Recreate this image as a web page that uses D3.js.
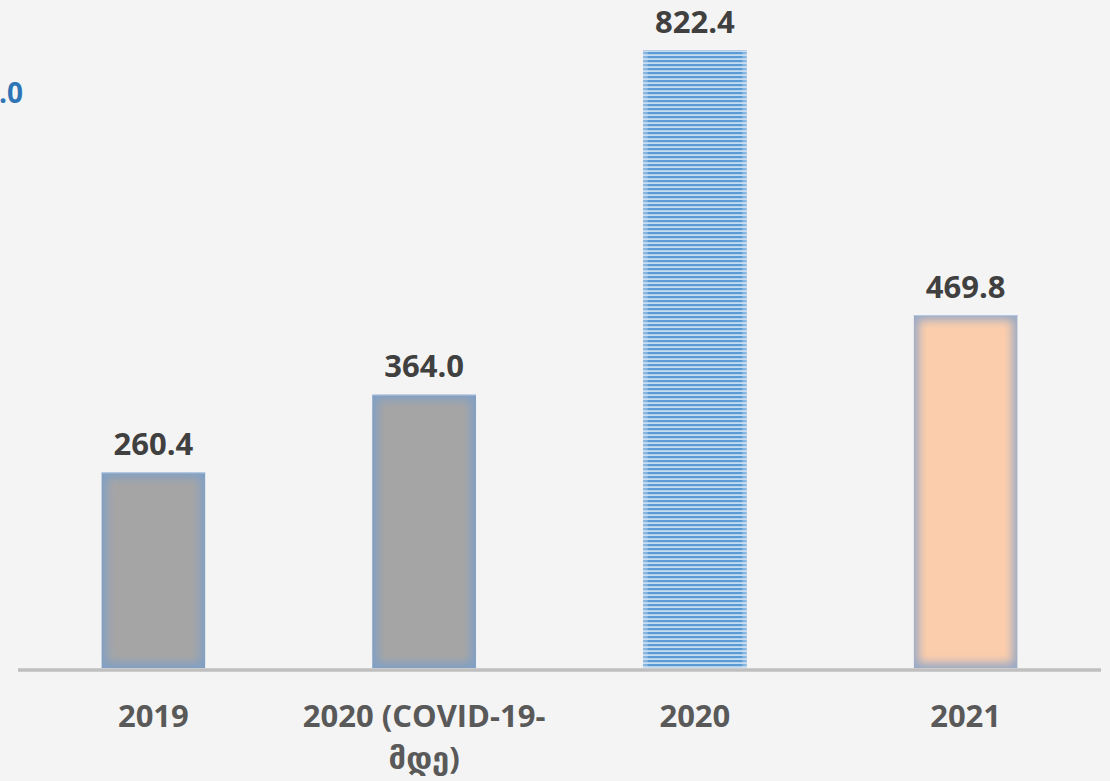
<!DOCTYPE html>
<html>
<head>
<meta charset="utf-8">
<script src="https://cdn.jsdelivr.net/npm/d3@7"></script>
<style>
    html, body { margin: 0; padding: 0; background: #f4f4f4; }
    svg { display: block; }
    .value { font-family: "Open Sans", "DejaVu Sans", sans-serif; font-weight: 700; fill: #404040; }
    .cat { font-family: "Open Sans", "DejaVu Sans", sans-serif; font-weight: 700; fill: #595959; }
</style>
</head>
<body>
<div id="chart"></div>
<script>
// data
var categories = ["2019", "2020 (COVID-19-\nმდე)", "2020", "2021"];
var values = [260.4, 364.0, 822.4, 469.8];
var fills = ["gray", "gray", "stripes", "peach"];

// Dimensions
var width = 1110, height = 781;
var baseY = 668;

var svg = d3.select("#chart").append("svg")
    .attr("width", width)
    .attr("height", height);

svg.append("rect").attr("width", width).attr("height", height).attr("fill", "#f4f4f4");

var defs = svg.append("defs");

defs.append("filter").attr("id", "soft")
    .attr("x", "-20%").attr("y", "-20%").attr("width", "140%").attr("height", "140%")
    .append("feGaussianBlur").attr("stdDeviation", 5);

var pat = defs.append("pattern").attr("id", "stripes")
    .attr("patternUnits", "userSpaceOnUse")
    .attr("width", 8).attr("height", 4);
pat.append("rect").attr("width", 8).attr("height", 4).attr("fill", "#c6dcf1");
pat.append("rect").attr("width", 8).attr("height", 2.2).attr("fill", "#5b9bd5");

var styles = {
    gray: { edge: "#7f9fc6", inner: "#a5a5a5" },
    stripes: { edge: "#d3e3f3", inner: "url(#stripes)" },
    peach: { edge: "#97a9c6", inner: "#fccdac" }
};

var x = d3.scaleBand()
    .domain(d3.range(categories.length))
    .range([18, 1101])
    .paddingInner(0.616)
    .paddingOuter(0.308);

var y = d3.scaleLinear()
    .domain([0, 900])
    .range([baseY, baseY - 900 * (618 / 822.4)]);

var bars = svg.selectAll("g.bar")
    .data(values)
    .enter().append("g")
    .attr("class", "bar");

bars.each(function(v, i) {
    var g = d3.select(this);
    var s = styles[fills[i]];
    var bx = x(i), bw = x.bandwidth(), by = y(v), bh = y(0) - y(v);

    defs.append("clipPath").attr("id", "clip-" + i)
        .append("rect").attr("x", bx).attr("y", by).attr("width", bw).attr("height", bh);

    var inner = g.append("g").attr("clip-path", "url(#clip-" + i + ")");
    inner.append("rect")
        .attr("x", bx).attr("y", by).attr("width", bw).attr("height", bh)
        .attr("fill", s.edge);
    if (fills[i] == "stripes") {
        // stripes stay crisp, soft light edges on the sides
        inner.append("rect")
            .attr("x", bx).attr("y", by).attr("width", bw).attr("height", bh)
            .attr("fill", s.inner);
        inner.append("rect")
            .attr("x", bx - 6).attr("y", by - 10).attr("width", 9).attr("height", bh + 20)
            .attr("fill", s.edge).attr("opacity", 0.7).attr("filter", "url(#soft)");
        inner.append("rect")
            .attr("x", bx + bw - 3).attr("y", by - 10).attr("width", 9).attr("height", bh + 20)
            .attr("fill", s.edge).attr("opacity", 0.7).attr("filter", "url(#soft)");
    } else {
        inner.append("rect")
            .attr("x", bx + 5).attr("y", by + 5).attr("width", bw - 10).attr("height", bh - 10)
            .attr("fill", s.inner).attr("filter", "url(#soft)");
        inner.append("rect")
            .attr("x", bx + 13).attr("y", by + 13).attr("width", bw - 26).attr("height", Math.max(0, bh - 26))
            .attr("fill", s.inner);
    }
    g.append("line")
        .attr("x1", bx).attr("x2", bx + bw).attr("y1", by + 0.5).attr("y2", by + 0.5)
        .attr("stroke", "#b4c9e3").attr("stroke-width", 1);
});

// value labels
svg.selectAll("text.value")
    .data(values)
    .enter().append("text")
    .attr("class", "value")
    .attr("x", function(d, i) { return x(i) + x.bandwidth() / 2; })
    .attr("y", function(d) { return y(d) - 17; })
    .attr("text-anchor", "middle")
    .style("font-size", "31px")
    .text(function(d) { return d.toFixed(1); });

// axis line
svg.append("line")
    .attr("x1", 18).attr("x2", 1101)
    .attr("y1", baseY + 2).attr("y2", baseY + 2)
    .attr("stroke", "#bfbfbf").attr("stroke-width", 3.5);

// category labels
var cat = svg.selectAll("text.cat")
    .data(categories)
    .enter().append("text")
    .attr("class", "cat")
    .attr("text-anchor", "middle")
    .style("font-size", "31px")
    .attr("x", function(d, i) { return x(i) + x.bandwidth() / 2; })
    .attr("y", 727);

cat.each(function(d, i) {
    var t = d3.select(this);
    var cx = x(i) + x.bandwidth() / 2;
    d.split("\n").forEach(function(line, j) {
        t.append("tspan").attr("x", cx).attr("dy", j == 0 ? 0 : 42).text(line);
    });
});

// cut off label at left edge
svg.append("text")
    .attr("class", "value")
    .attr("x", 23).attr("y", 103)
    .attr("text-anchor", "end")
    .style("font-size", "28px")
    .style("fill", "#2e75b6")
    .text("0.0");
</script>
</body>
</html>
